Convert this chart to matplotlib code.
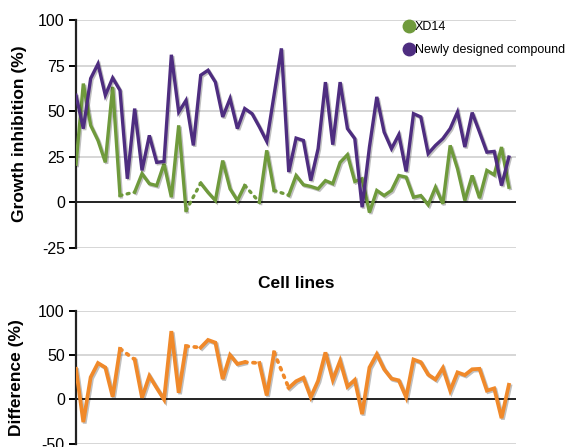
import matplotlib
matplotlib.use("Agg")
import matplotlib.pyplot as plt
import matplotlib.patheffects as pe
from matplotlib.lines import Line2D
import numpy as np

plt.rcParams['font.family'] = ['Liberation Sans', 'DejaVu Sans']
plt.rcParams['axes.unicode_minus'] = False

# data (60 cell lines, nan = no value -> dotted bridge)
nan = np.nan
xd14 = [21, 65.2, 42.3, 34, 22, 63.4, 3.8, nan, 5.7, 15.8,
        10.3, 9.3, 21.2, 2.9, 42.3, -4.4, nan, 10.6, 5.5, 1.1,
        23, 7.5, 1.1, 9.3, nan, 0.2, 28.6, 6.6, nan, 4,
        14.8, 9.7, 8.8, 7.5, 12, 10.3, 22, 26.2, 11.5, 13,
        -5.5, 6.6, 3.8, 6.6, 14.8, 13.9, 2.9, 3.8, -1.3, 8.4,
        -0.7, 31.3, 18.5, 1.1, 14.8, 2.4, 17.6, 15.2, 30.4, 8.4]
new_cpd = [58.8, 40.5, 68, 76, 58.8, 68.3, 61.5, 13, 51.5, 17.6,
           36.8, 22, 22.5, 81, 49.6, 56, 31.3, 69.8, 72.5, 66,
           46.9, 57, 40.5, 51.5, 48.7, 41.4, 33.5, 59, 84.5, 16.7,
           35.3, 34, 12, 29.5, 66, 31.7, 66, 40.5, 35, -2.6,
           30.5, 57.9, 38.6, 29.5, 37.2, 17, 48.7, 46.9, 26.8, 31.3,
           35, 40.5, 49.6, 30.4, 49.3, 38.6, 27.6, 28, 9.3, 24.9]
diff = [34.5, -25.5, 25, 41, 36, 3, 57, nan, 45, 2,
        26.5, 13, 0, 77, 7.5, 60, nan, 58.5, 67, 64,
        23, 50, 40, 42, nan, 41, 4.5, 53, nan, 13,
        20.5, 24.5, 2.5, 21, 53, 22, 43.5, 14.5, 22, -16.5,
        36, 51, 34, 23.5, 21.5, 2.5, 45, 42, 28, 22.5,
        35.5, 10, 30.5, 27.5, 34, 34.5, 10, 12.5, -21, 16.5]

top_ticks = [100, 75, 50, 25, 0, -25]
bot_ticks = [100, 50, 0, -50]

green = '#6f9a3c'
purple = '#4e2d80'
orange = '#f0892a'
shadow = [pe.SimpleLineShadow(offset=(1, -1), alpha=0.25), pe.Normal()]


def draw_series(ax, vals, color, lw, z):
    y = np.array(vals, dtype=float)
    x = np.arange(len(y))
    ax.plot(x, y, color=color, lw=lw, solid_joinstyle='miter',
            path_effects=shadow, zorder=z)
    # dotted bridge over missing values
    for i in np.where(np.isnan(y))[0]:
        ax.plot([i - 1, i + 1], [y[i - 1], y[i + 1]], color=color, lw=lw,
                ls=(0, (0.6, 1.6)), dash_capstyle='round', zorder=z)


def style_axis(ax, ticks):
    ax.set_xlim(0, 60)
    ax.set_ylim(min(ticks), max(ticks))
    ax.set_yticks(ticks)
    ax.set_yticklabels([str(t) for t in ticks], fontsize=11.5)
    ax.set_xticks([])
    for s in ['top', 'right', 'bottom']:
        ax.spines[s].set_visible(False)
    ax.spines['left'].set_linewidth(1.6)
    ax.spines['left'].set_color('#222222')
    ax.tick_params(axis='y', length=5, width=1.4, direction='out', pad=3)
    for t in ticks:
        if t == 0:
            ax.axhline(0, color='#222222', lw=1.4, zorder=1)
        else:
            ax.axhline(t, color='#cfcfcf', lw=1.2, zorder=0)


fig = plt.figure(figsize=(5.8, 4.47), dpi=100)
ax1 = fig.add_axes([0.131, 0.445, 0.759, 0.510])
ax2 = fig.add_axes([0.131, 0.007, 0.759, 0.298])

style_axis(ax1, top_ticks)
draw_series(ax1, xd14, green, 2.4, 3)
draw_series(ax1, new_cpd, purple, 2.4, 4)
ax1.set_ylabel('Growth inhibition (%)', fontsize=12.5, fontweight='bold')
ax1.yaxis.set_label_coords(-0.112, 0.5)
ax1.set_xlabel('Cell lines', fontsize=12.5, fontweight='bold', labelpad=20)

handles = [Line2D([], [], ls='none', marker='o', ms=9, color=green),
           Line2D([], [], ls='none', marker='o', ms=9, color=purple)]
fig.legend(handles, ['XD14', 'Newly designed compound'], loc='upper left',
           bbox_to_anchor=(0.672, 0.978), frameon=False, fontsize=9,
           handletextpad=-0.1, labelspacing=0.9, handlelength=1.2)

style_axis(ax2, bot_ticks)
draw_series(ax2, diff, orange, 2.7, 3)
ax2.set_ylabel('Difference (%)', fontsize=12.5, fontweight='bold')
ax2.yaxis.set_label_coords(-0.118, 0.5)

fig.savefig('out.png', dpi=100)
